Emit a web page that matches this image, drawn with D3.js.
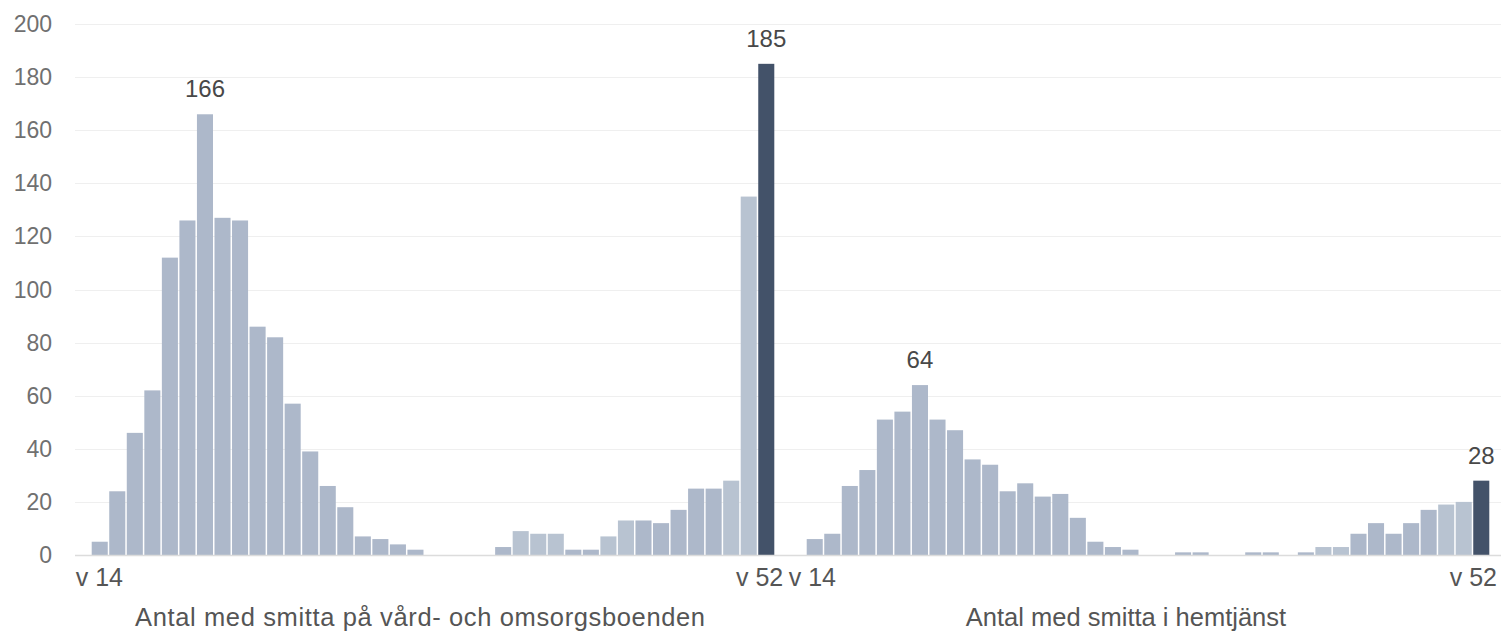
<!DOCTYPE html>
<html>
<head>
<meta charset="UTF-8" />
<title>Antal med smitta</title>
<script src="https://cdn.jsdelivr.net/npm/d3@7/dist/d3.min.js"></script>
<style>
    body { margin: 0; background: #fff; }
    svg { display: block; font-family: "Liberation Sans", Arial, sans-serif; }
    .grid line { stroke: #efefef; stroke-width: 1.2px; }
    .ylab { fill: #707070; font-size: 23px; }
    .xlab { fill: #555; font-size: 25px; }
    .vlab { fill: #484848; font-size: 24px; }
    .title { fill: #555; font-size: 25.5px; }
</style>
</head>
<body>
<div id="chart"></div>
<script>
    // veckor 14..52
    var weeks = d3.range(14, 53);

    var boendeTitle = "Antal med smitta på vård- och omsorgsboenden";
    var boende = [5, 24, 46, 62, 112, 126, 166, 127, 126, 86, 82, 57, 39, 26, 18, 7, 6, 4, 2,
        0, 0, 0, 0, 3, 9, 8, 8, 2, 2, 7, 13, 13, 12, 17, 25, 25, 28, 135, 185];
    var boendeLjusa = [38, 39, 40, 43, 44, 50, 51];

    var hemtjanstTitle = "Antal med smitta i hemtjänst";
    var hemtjanst = [6, 8, 26, 32, 51, 54, 64, 51, 47, 36, 34, 24, 27, 22, 23, 14, 5, 3, 2,
        0, 0, 1, 1, 0, 0, 1, 1, 0, 1, 3, 3, 8, 12, 8, 12, 17, 19, 20, 28];
    var hemtjanstLjusa = [43, 44, 50, 51];

    var yTicks = [0, 20, 40, 60, 80, 100, 120, 140, 160, 180, 200];

    var width = 1501, height = 633;
    var svg = d3.select("#chart").append("svg").attr("width", width).attr("height", height);

    var y = d3.scaleLinear().domain([0, 200]).range([555, 24]);

    // grid
    svg.append("g").attr("class", "grid")
        .selectAll("line").data(yTicks.slice(1)).enter().append("line")
        .attr("x1", 75).attr("x2", width)
        .attr("y1", function (d) { return Math.round(y(d)) + 0.5; })
        .attr("y2", function (d) { return Math.round(y(d)) + 0.5; });

    svg.append("g").selectAll("text").data(yTicks).enter().append("text")
        .attr("class", "ylab")
        .attr("x", 52).attr("y", function (d) { return y(d); })
        .attr("dy", "0.35em").attr("text-anchor", "end")
        .text(function (d) { return d; });

    function panel(values, ljusa, x0, x1) {
        var x = d3.scaleBand().domain(weeks).range([x0, x1]).paddingInner(0.085).paddingOuter(0.04);
        var g = svg.append("g");
        var last = weeks[weeks.length - 1];

        g.selectAll("rect").data(weeks).enter().append("rect")
            .attr("x", function (d) { return x(d); })
            .attr("width", x.bandwidth())
            .attr("y", function (d, i) { return y(values[i]); })
            .attr("height", function (d, i) { return y(0) - y(values[i]); })
            .attr("fill", function (d) {
                if (d === last) return "#435269";
                return ljusa.indexOf(d) >= 0 ? "#b8c3d1" : "#adb8ca";
            });

        // etikett på vårens topp och sista veckan
        var peakI = d3.maxIndex(values.slice(0, 20));
        var labelled = [peakI, values.length - 1];
        g.selectAll("text.vlab").data(labelled).enter().append("text")
            .attr("class", "vlab")
            .attr("x", function (i) { return x(weeks[i]) + x.bandwidth() / 2; })
            .attr("y", function (i) { return y(values[i]) - 17; })
            .attr("text-anchor", "middle")
            .text(function (i) { return values[i]; });

        return x;
    }

    var xl = panel(boende, boendeLjusa, 91, 775);
    var xr = panel(hemtjanst, hemtjanstLjusa, 806, 1490);

    // baslinje
    svg.append("line").attr("x1", 75).attr("x2", width)
        .attr("y1", 555.5).attr("y2", 555.5)
        .attr("stroke", "#dcdcdc").attr("stroke-width", 1.6);

    // x-etiketter
    function xlab(text, xpos, anchor) {
        svg.append("text").attr("class", "xlab")
            .attr("x", xpos).attr("y", 586).attr("text-anchor", anchor).text(text);
    }
    xlab("v " + weeks[0], xl(weeks[0]) - 16, "start");
    xlab("v " + weeks[38], xl(weeks[38]) + 25, "end");
    xlab("v " + weeks[0], xr(weeks[0]) - 18, "start");
    xlab("v " + weeks[38], 1497, "end");

    svg.append("text").attr("class", "title").attr("x", 420).attr("y", 626)
        .attr("text-anchor", "middle")
        .attr("textLength", 570).attr("lengthAdjust", "spacing")
        .text(boendeTitle);
    svg.append("text").attr("class", "title").attr("x", 1126).attr("y", 626)
        .attr("text-anchor", "middle").text(hemtjanstTitle);
</script>
</body>
</html>
